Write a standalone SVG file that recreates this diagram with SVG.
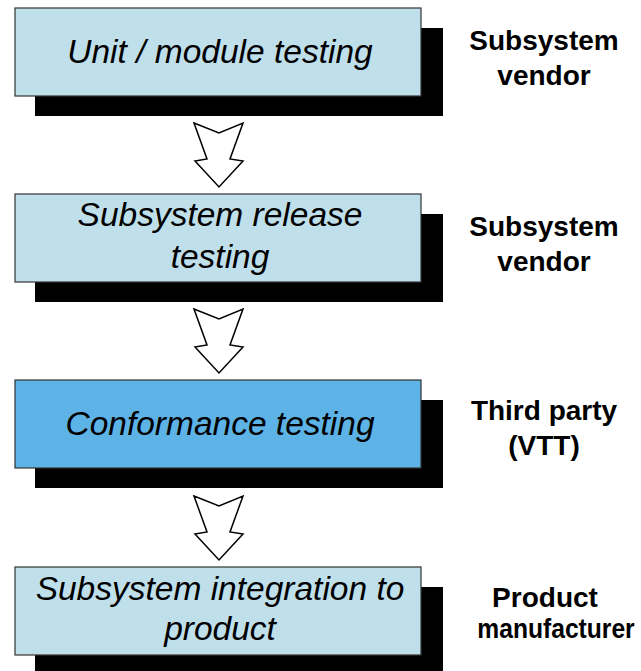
<svg xmlns="http://www.w3.org/2000/svg" width="641" height="671" viewBox="0 0 641 671">
  <style>
    .shadow { fill: #000000; }
    .box { fill: #bfdfeb; stroke: #333333; stroke-width: 1.2; }
    .box.hl { fill: #5db3e6; }
    .step { font-family: "Liberation Sans", Arial, sans-serif; font-style: italic; font-size: 33.5px; fill: #000000; text-anchor: middle; }
    .who { font-family: "Liberation Sans", Arial, sans-serif; font-weight: bold; font-size: 28px; fill: #000000; text-anchor: middle; }
    .flow { fill: #ffffff; stroke: #000000; stroke-width: 1.5; stroke-linejoin: miter; }
  </style>
  <rect width="641" height="671" fill="#ffffff"/>

  <g id="unit-testing">
    <rect class="shadow" x="35" y="28" width="408" height="88"/>
    <rect class="box" x="15" y="8" width="406" height="88"/>
    <text class="step" x="220" y="63">Unit / module testing</text>
    <text class="who" x="544" y="50">Subsystem</text>
    <text class="who" x="544" y="85">vendor</text>
  </g>

  <g id="release-testing">
    <rect class="shadow" x="35" y="214" width="408" height="88"/>
    <rect class="box" x="15" y="194" width="406" height="88"/>
    <text class="step" x="220" y="226">Subsystem release</text>
    <text class="step" x="220" y="268">testing</text>
    <text class="who" x="544" y="236">Subsystem</text>
    <text class="who" x="544" y="271">vendor</text>
  </g>

  <g id="conformance-testing">
    <rect class="shadow" x="35" y="400" width="408" height="88"/>
    <rect class="box hl" x="15" y="380" width="406" height="88"/>
    <text class="step" x="220" y="435">Conformance testing</text>
    <text class="who" x="544" y="420">Third party</text>
    <text class="who" x="544" y="455">(VTT)</text>
  </g>

  <g id="integration">
    <rect class="shadow" x="35" y="587" width="408" height="88"/>
    <rect class="box" x="15" y="567" width="406" height="88"/>
    <text class="step" x="220" y="600">Subsystem integration to</text>
    <text class="step" x="220" y="640">product</text>
    <text class="who" x="545" y="607">Product</text>
    <!-- condensed horizontally so the long word stays inside the right edge -->
    <text class="who" transform="translate(556,638) scale(0.88,1)" x="0" y="0">manufacturer</text>
  </g>

  <g id="connectors">
    <path class="flow" d="M194,123 L219,133 L243,123 L230,159 L243,161 L219,187 L195,161 L207,159 Z"/>
    <path class="flow" d="M194,309 L219,319 L243,309 L230,345 L243,347 L219,373 L195,347 L207,345 Z"/>
    <path class="flow" d="M194,496 L219,506 L243,496 L230,532 L243,534 L219,560 L195,534 L207,532 Z"/>
  </g>
</svg>
